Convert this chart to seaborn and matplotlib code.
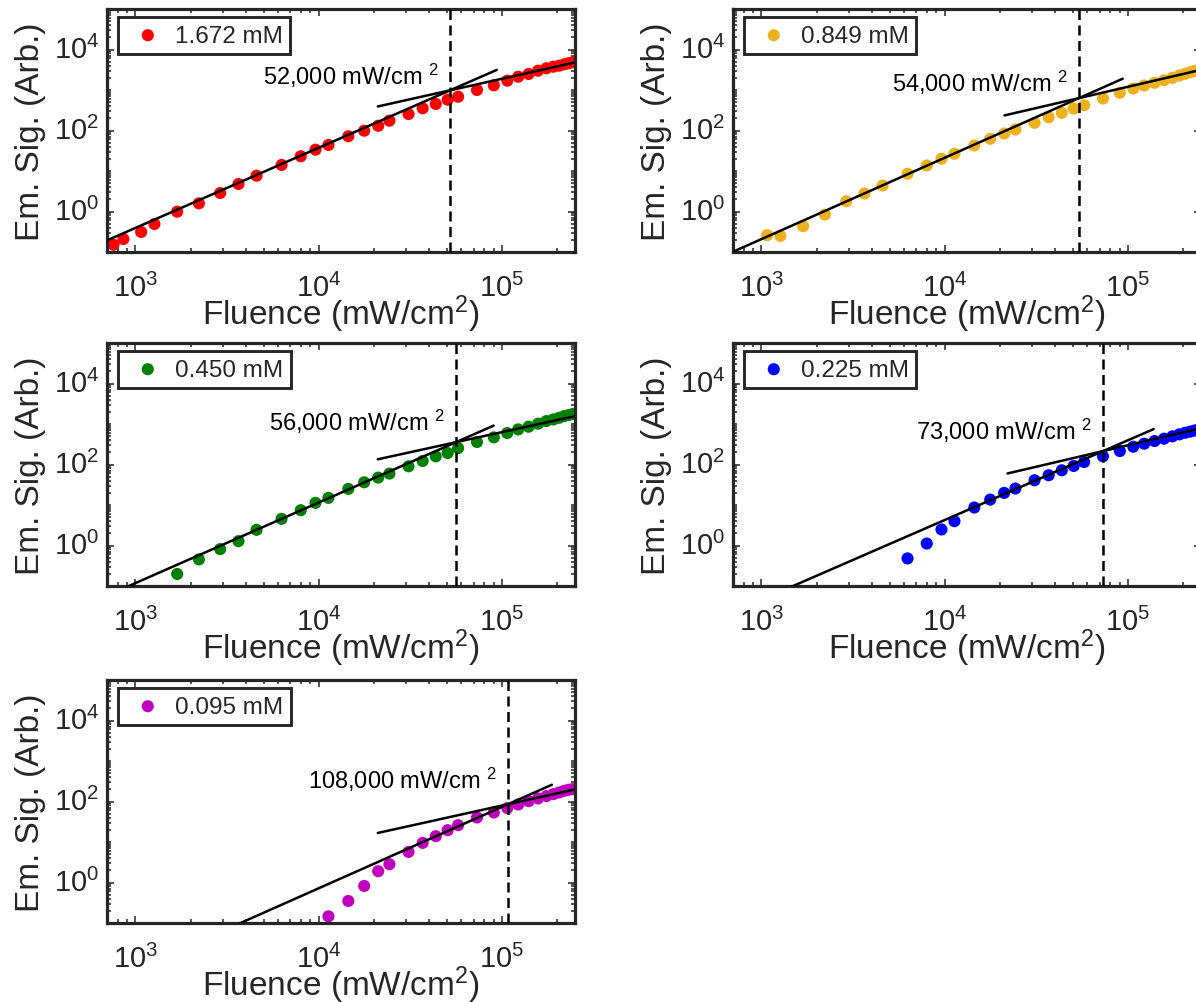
import numpy as np
import pandas as pd
import matplotlib
matplotlib.use("Agg")
import matplotlib.pyplot as plt
import seaborn as sns
from matplotlib.ticker import FixedLocator, LogFormatterSciNotation, NullFormatter

# Excitation fluence grid (mW/cm^2) shared by all concentrations
fluence = [760, 860, 1075, 1270, 1690, 2220, 2900, 3650, 4580, 6270,
           7980, 9600, 11300, 14500, 17700, 21100, 24300, 30900, 36900, 43500,
           50500, 57600, 73000, 90200, 106800, 122500, 139500, 157200, 174500, 190500,
           205000, 218500, 230500, 242000]

conc_labels = ["1.672 mM", "0.849 mM", "0.450 mM", "0.225 mM", "0.095 mM"]
colors = ["#FF0000", "#EDB120", "#008000", "#0000FF", "#BF00BF"]

# Emission signal (arb.) for each concentration; each series covers the
# highest fluences of the grid
sig_1672 = [0.151, 0.209, 0.312, 0.491, 0.99, 1.59, 2.86, 4.78, 7.65, 14.1,
            23.1, 33.6, 43.9, 72, 98.8, 131, 175, 255, 353, 451,
            576, 683, 1000, 1306, 1698, 2130, 2483, 2998, 3436, 3760,
            3981, 4313, 4563, 4830]
sig_0849 = [0.26, 0.25, 0.434, 0.84, 1.79, 2.78, 4.38, 8.53, 13.7, 20.0,
            26.6, 42.7, 62.4, 84.3, 106, 155, 213, 273, 349, 421,
            617, 853, 1089, 1291, 1506, 1746, 2000, 2280, 2512, 2754,
            2950, 3150]
sig_0450 = [0.198, 0.454, 0.815, 1.28, 2.44, 4.55, 7.45, 11.3, 15.0, 25.0,
            36.4, 47.5, 59.6, 90.3, 122, 159, 192, 255, 359, 468,
            598, 736, 857, 1016, 1181, 1298, 1427, 1568, 1660, 1758]
sig_0225 = [0.48, 1.12, 2.49, 3.99, 8.66, 13.6, 19.9, 25.5, 40.8, 54.2,
            72.0, 92.0, 115, 159, 215, 275, 326, 380, 434, 495,
            555, 609, 650, 690, 730]
sig_0095 = [0.146, 0.350, 0.822, 1.90, 2.83, 5.70, 9.52, 13.9, 19.6, 26.0,
            40.3, 53.5, 68.5, 84.5, 102, 119, 136, 152, 167, 184,
            195, 202]
signals = [sig_1672, sig_0849, sig_0450, sig_0225, sig_0095]

# Power-law fits: quadratic (low fluence) and linear (high fluence) regimes
thresholds = [52000, 54000, 56000, 73000, 108000]
threshold_signal = [980, 630, 355, 214, 86]
slope_low = [1.98, 2.01, 1.99, 1.97, 2.01]
slope_high = [1.01, 1.05, 0.99, 1.06, 1.00]
low_fit_end = [93500, 93500, 90000, 138000, 187000]
high_fit_start = [21000, 21200, 21000, 22000, 21000]
note_y = [1400, 930, 725, 435, 215]

sns.set_theme(style="ticks")
plt.rcParams.update({
    "font.family": ["Liberation Sans", "DejaVu Sans"],
    "mathtext.fontset": "custom",
    "mathtext.rm": "Liberation Sans",
    "mathtext.it": "Liberation Sans:italic",
    "mathtext.bf": "Liberation Sans:bold",
    "mathtext.sf": "Liberation Sans",
})

W, H = 1196, 1003
fig = plt.figure(figsize=(W / 100, H / 100), dpi=100)
fig.patch.set_facecolor("white")

AX_W, AX_H = 468, 243
lefts = [107, 733, 107, 733, 107]
tops = [10, 10, 344, 344, 681]
XMIN, XMAX = 700, 2.5e5
YMIN, YMAX = 0.1, 1e5
ink = "#262626"

x_major = [1e3, 1e4, 1e5]
x_minor = [k * 10.0 ** e for e in range(2, 6) for k in range(2, 10)]
y_major = [1e0, 1e2, 1e4]
y_minor = [k * 10.0 ** e for e in range(-1, 6) for k in range(1, 10)]

for i in range(5):
    ax = fig.add_axes([lefts[i] / W, 1 - (tops[i] + AX_H) / H, AX_W / W, AX_H / H])
    ax.set_xscale("log")
    ax.set_yscale("log")
    n = len(signals[i])
    df = pd.DataFrame({"fluence": fluence[-n:], "signal": signals[i]})
    sns.scatterplot(data=df, x="fluence", y="signal", color=colors[i], s=76,
                    edgecolor="none", linewidth=0, label=conc_labels[i],
                    ax=ax, zorder=2)

    xt, yt = thresholds[i], threshold_signal[i]
    xl = np.array([XMIN, low_fit_end[i]])
    ax.plot(xl, yt * (xl / xt) ** slope_low[i], color="black", lw=1.8, zorder=3)
    xh = np.array([high_fit_start[i], XMAX])
    ax.plot(xh, yt * (xh / xt) ** slope_high[i], color="black", lw=1.8, zorder=3)
    ax.axvline(xt, color="black", lw=1.8, dashes=(4, 2.2), zorder=3)
    ax.annotate(f"{xt:,} mW/cm $^2$", xy=(xt, note_y[i]), xytext=(-11, 0),
                textcoords="offset pixels", ha="right", va="baseline",
                fontsize=17, color="black")

    ax.set_xlim(XMIN, XMAX)
    ax.set_ylim(YMIN, YMAX)
    ax.xaxis.set_major_locator(FixedLocator(x_major))
    ax.xaxis.set_minor_locator(FixedLocator(x_minor))
    ax.yaxis.set_major_locator(FixedLocator(y_major))
    ax.yaxis.set_minor_locator(FixedLocator(y_minor))
    ax.xaxis.set_major_formatter(LogFormatterSciNotation())
    ax.yaxis.set_major_formatter(LogFormatterSciNotation())
    ax.xaxis.set_minor_formatter(NullFormatter())
    ax.yaxis.set_minor_formatter(NullFormatter())

    ax.tick_params(which="both", direction="in", top=True, right=True,
                   color=ink, labelcolor=ink, width=1.1, labelsize=21)
    ax.tick_params(which="major", length=5)
    ax.tick_params(which="minor", length=2.8)
    ax.tick_params(axis="x", which="major", pad=15)
    ax.tick_params(axis="y", which="major", pad=5.5)
    plt.setp(ax.get_yticklabels(), va="center")
    for sp in ax.spines.values():
        sp.set_linewidth(2.3)
        sp.set_color(ink)

    ax.set_xlabel("Fluence (mW/cm$^2$)", fontsize=24, color=ink)
    ax.xaxis.set_label_coords(0.5, -0.296)
    ax.xaxis.label.set_va("baseline")
    ax.set_ylabel("Em. Sig. (Arb.)", fontsize=24, color=ink)
    ax.yaxis.set_label_coords(-0.163, 0.5)
    ax.yaxis.label.set_va("center")

    leg = ax.legend(loc="upper left", bbox_to_anchor=(11 / AX_W, 1 - 8.3 / AX_H),
                    borderaxespad=0, frameon=True, fancybox=False, edgecolor=ink,
                    framealpha=1, fontsize=17.5, handlelength=1.85,
                    handletextpad=0.2, borderpad=0.3)
    leg.get_frame().set_linewidth(2.1)

fig.savefig("out.png", dpi=100, facecolor="white")
